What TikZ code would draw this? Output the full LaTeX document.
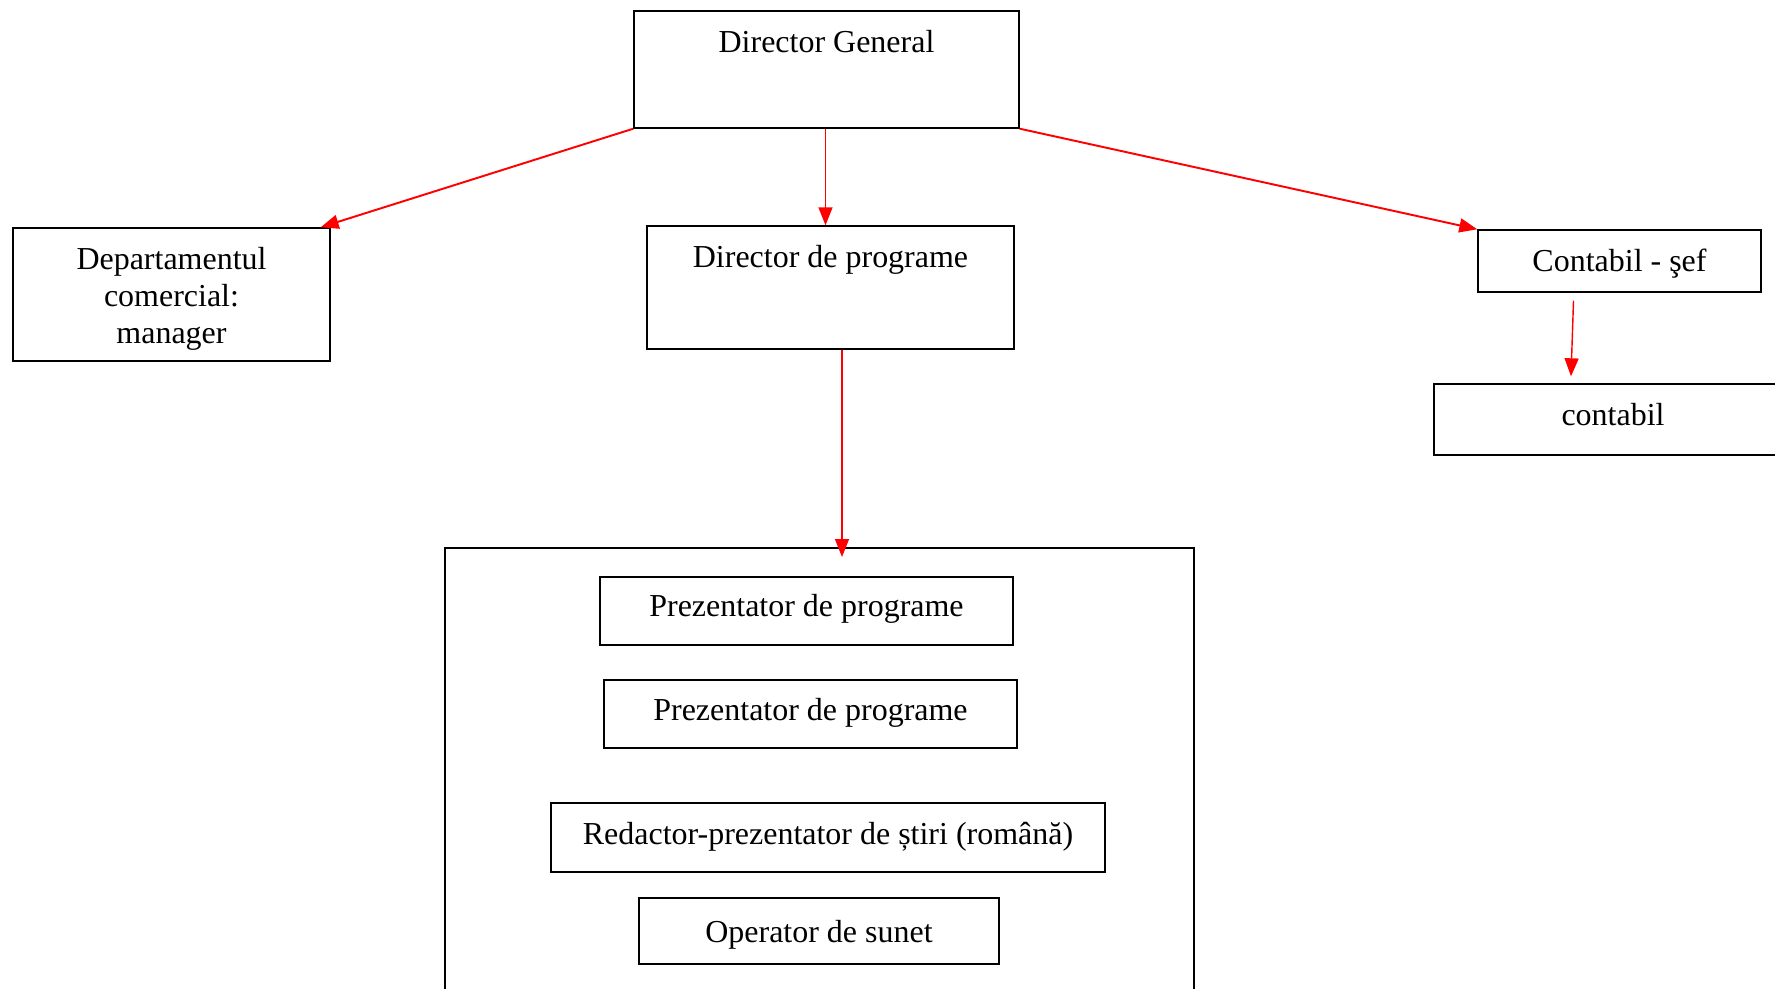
\documentclass[tikz,border=0pt]{standalone}
\usepackage{fontspec}
\setmainfont{Liberation Serif}
\usetikzlibrary{arrows.meta,calc}

\begin{document}
\begin{tikzpicture}[x=0.02cm,y=-0.02cm]
        \tikzset{box/.style={draw,line width=0.8pt,inner sep=0pt,
                font=\fontsize{18.2}{21}\selectfont},
            link/.style={draw=red,line width=1.1pt,
                -{Triangle[length=0.36cm,width=0.28cm]}},
            thin link/.style={link,line width=0.8pt}}
        \useasboundingbox (0,0) rectangle (1775,989);
        \node[box,minimum width=7.7cm,text height=0.84cm,text depth=1.5cm] (dg) at (826.5,69.5) {Director General};
        \node[box,minimum width=6.34cm,minimum height=2.66cm,align=center] (dept) at (171.5,294.5)
            {\rule{0pt}{17.5pt}Departamentul\\comercial:\\manager};
        \node[box,minimum width=7.34cm,text height=0.82cm,text depth=1.64cm] (dirprog) at (830.5,287.5) {Director de programe};
        \node[box,minimum width=5.66cm,text height=0.84cm,text depth=0.4cm] (sef) at (1619.5,261) {Contabil - şef};
        \node[box,minimum width=7.16cm,text height=0.84cm,text depth=0.58cm] (contabil) at (1613,419.5) {contabil};
        % echipa de programe
        \node[box,minimum width=14.98cm,minimum height=9.24cm] (team) at (819.5,779) {};
        \node[box,minimum width=8.26cm,text height=0.8cm,text depth=0.56cm] (prez1) at (806.5,611) {Prezentator de programe};
        \node[box,minimum width=8.26cm,text height=0.8cm,text depth=0.56cm] (prez2) at (810.5,714) {Prezentator de programe};
        \node[box,minimum width=11.08cm,text height=0.82cm,text depth=0.56cm] (redactor) at (828,837.5) {Redactor-prezentator de știri (română)};
        \node[box,minimum width=7.2cm,text height=0.88cm,text depth=0.44cm] (operator) at (819,931) {Operator de sunet};
        \coordinate (teamin) at (842,557);
        \draw[link] (dg.south west) -- ($(dept.north east)+(-10,0)$);
        \draw[thin link] ($(dg.south)+(-1,0)$) -- ($(dg.south |- dirprog.north)+(-1,0)$);
        \draw[link] (dg.south east) -- (sef.north west);
        \draw[thin link] (dirprog.south -| teamin) -- (teamin);
        \draw[thin link] ($(sef.south)+(-46,8)$) -- ($(contabil.north)+(-42,-7)$);
    \end{tikzpicture}
\end{document}
